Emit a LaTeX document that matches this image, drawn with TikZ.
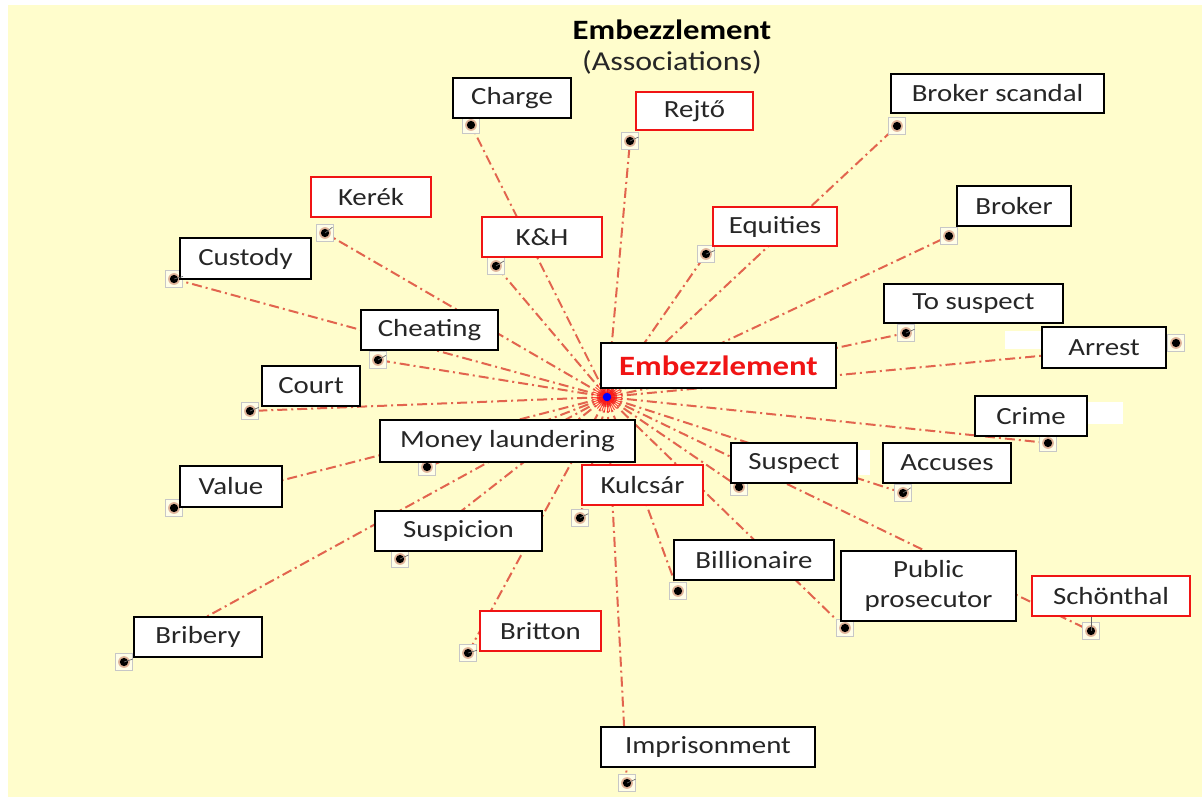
\documentclass[tikz,border=0pt]{standalone}
\usepackage{fontspec}
\usetikzlibrary{calc}
\setmainfont{Carlito}[FakeStretch=1.17]
\definecolor{paper}{RGB}{255,253,204}
\definecolor{assocline}{RGB}{226,100,78}
\definecolor{labeltext}{RGB}{38,38,38}
\definecolor{keyred}{RGB}{240,20,20}
\definecolor{halo}{RGB}{190,90,60}
% term box from its corner coordinates (in px units)
\newcommand\termbox[7]{%
  \node[#2, minimum width={(#5-#3)*0.75pt}, minimum height={(#6-#4)*0.75pt}]
    (#1) at ({(#3+#5)/2},{(#4+#6)/2}) {#7};}
% anchor marker of a term: small grey square with a black dot
\newcommand\termmark[2]{%
  \node[marksq] (#1) at (#2) {};
  \fill[halo, opacity=0.45] (#1.center) circle (4.4pt);
  \fill[black] (#1.center) circle (3.1pt);}
\begin{document}
\begin{tikzpicture}[x=0.75pt,y=-0.75pt,
  term/.style={draw=black, line width=1.1pt, fill=white, text=labeltext,
    font=\fontsize{18.5}{22}\selectfont, inner sep=0pt, align=center},
  keyterm/.style={term, draw=keyred, line width=1pt},
  hubterm/.style={term, text=keyred, font=\fontsize{21}{25}\selectfont\bfseries},
  marksq/.style={draw=black!22, line width=0.9pt, fill=white!55!paper,
    minimum size=13pt, inner sep=0pt},
  link/.style={draw=assocline, line width=1.5pt,
    dash pattern=on 7.5pt off 3pt on 1.5pt off 3pt},
  stub/.style={draw=black!60, line width=0.5pt},
  patch/.style={fill=white, draw=none}]

\useasboundingbox (0,0) rectangle (1202,797);
\fill[paper] (8,5) rectangle (1202,797);

\coordinate (hub) at (607,397);

% anchor positions of the associated terms
\coordinate (p-charge)   at (471,125);
\coordinate (p-rejto)    at (630,141);
\coordinate (p-brokersc) at (897,126);
\coordinate (p-kerek)    at (325,233);
\coordinate (p-kh)       at (496,266);
\coordinate (p-equities) at (706,254);
\coordinate (p-broker)   at (949,236);
\coordinate (p-custody)  at (174,279);
\coordinate (p-tosusp)   at (906,333);
\coordinate (p-arrest)   at (1176,343);
\coordinate (p-cheating) at (378,360);
\coordinate (p-court)    at (250,411);
\coordinate (p-crime)    at (1048,443);
\coordinate (p-money)    at (427,467);
\coordinate (p-suspect)  at (739,487);
\coordinate (p-accuses)  at (903,493);
\coordinate (p-value)    at (174,508);
\coordinate (p-kulcsar)  at (580,518);
\coordinate (p-suspicion) at (400,559);
\coordinate (p-billion)  at (678,591);
\coordinate (p-prosec)   at (845,628);
\coordinate (p-schont)   at (1091,631);
\coordinate (p-bribery)  at (124,662);
\coordinate (p-britton)  at (468,653);
\coordinate (p-prison)   at (627,783);

% association links from the hub
\foreach \t in {charge,rejto,brokersc,kerek,kh,equities,broker,custody,tosusp,
  arrest,cheating,court,crime,money,suspect,accuses,value,kulcsar,suspicion,
  billion,prosec,schont,bribery,britton,prison}
  \draw[link] (hub) -- (p-\t);

% light patches beside some boxes
\fill[patch] (1005,331) rectangle (1042,349);
\fill[patch] (1087,402) rectangle (1123,424);
\fill[patch] (857,450) rectangle (870,475);

% hub star
\foreach \a in {0,10,...,350}
  \draw[red!90, line width=0.7pt, opacity=0.8] (hub) -- ++(\a:15);
\fill[red, opacity=0.35] (hub) circle (6pt);
\fill[blue] (hub) circle (3.2pt);

% markers
\foreach \t in {charge,rejto,brokersc,kerek,kh,equities,broker,custody,tosusp,
  arrest,cheating,court,crime,money,suspect,accuses,value,kulcsar,suspicion,
  billion,prosec,schont,bribery,britton,prison}
  {\termmark{m-\t}{p-\t}}

% term boxes
\termbox{hubbox}{hubterm}{601}{343}{836}{388}{Embezzlement}
\termbox{charge}{term}{453}{78}{571}{118}{Charge}
\termbox{rejto}{keyterm}{636}{92}{753}{130}{Rejtő}
\termbox{brokersc}{term}{891}{74}{1104}{113}{Broker scandal}
\termbox{kerek}{keyterm}{311}{177}{431}{217}{Kerék}
\termbox{kh}{keyterm}{482}{217}{602}{257}{K\&H}
\termbox{equities}{keyterm}{713}{207}{837}{246}{Equities}
\termbox{broker}{term}{957}{186}{1071}{226}{Broker}
\termbox{custody}{term}{180}{238}{311}{279}{Custody}
\termbox{tosusp}{term}{884}{284}{1063}{323}{To suspect}
\termbox{arrest}{term}{1042}{327}{1166}{368}{Arrest}
\termbox{cheating}{term}{361}{310}{498}{350}{Cheating}
\termbox{court}{term}{262}{366}{360}{406}{Court}
\termbox{crime}{term}{975}{396}{1087}{436}{Crime}
\termbox{money}{term}{380}{420}{635}{462}{Money laundering}
\termbox{suspect}{term}{731}{443}{857}{483}{Suspect}
\termbox{accuses}{term}{883}{443}{1011}{483}{Accuses}
\termbox{value}{term}{180}{466}{282}{507}{Value}
\termbox{kulcsar}{keyterm}{582}{465}{703}{505}{Kulcsár}
\termbox{suspicion}{term}{375}{511}{542}{551}{Suspicion}
\termbox{billion}{term}{674}{540}{834}{580}{Billionaire}
\termbox{prosec}{term}{841}{551}{1016}{621}{Public\\[1pt]prosecutor}
\termbox{schont}{keyterm}{1032}{576}{1190}{616}{Schönthal}
\termbox{bribery}{term}{134}{617}{262}{657}{Bribery}
\termbox{britton}{keyterm}{480}{611}{601}{651}{Britton}
\termbox{prison}{term}{601}{727}{815}{767}{Imprisonment}

% short stubs from each marker dot towards its box
\foreach \t in {rejto,kerek,kh,equities,custody,tosusp,cheating,court,
  accuses,kulcsar,suspicion,bribery,britton,prison}
  \draw[stub] (m-\t.center) -- ($(m-\t.center)!7pt!(\t.center)$);
\draw[stub] (m-schont.center) -- (m-schont.center |- schont.south);

% title
\node[font=\fontsize{21}{25}\selectfont\bfseries] (title) at (672,30) {Embezzlement};
\node[font=\fontsize{20.5}{25}\selectfont, text=labeltext] (subtitle) at (672,62) {(Associations)};
\end{tikzpicture}
\end{document}
